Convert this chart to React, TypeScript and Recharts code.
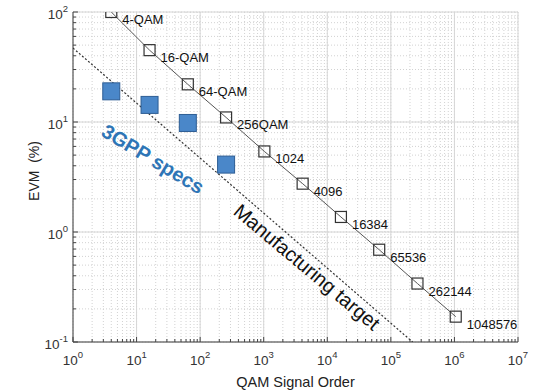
import { ScatterChart, Scatter, XAxis, YAxis, CartesianGrid } from 'recharts';

// QAM constellation orders and the EVM they need
const qamOrders = [4, 16, 64, 256, 1024, 4096, 16384, 65536, 262144, 1048576];
const qamLabels = ['4-QAM', '16-QAM', '64-QAM', '256QAM', '1024', '4096', '16384', '65536', '262144', '1048576'];
const evmRequired = [100, 45, 22, 11, 5.4, 2.75, 1.37, 0.69, 0.34, 0.17];

// 3GPP spec points
const specOrders = [4, 16, 64, 256];
const specEvm = [19, 14.3, 9.8, 4.1];

// manufacturing target (dotted line end points)
const targetOrders = [1, 220000];
const targetEvm = [47, 0.1];

const xDecades = [1, 10, 100, 1e3, 1e4, 1e5, 1e6, 1e7];
const yDecades = [0.1, 1, 10, 100];

const FONT = '"Liberation Sans", Arial, sans-serif';
const AXIS = '#444';

const qamData = qamOrders.map((x, i) => ({ x, y: evmRequired[i], label: qamLabels[i] }));
const specData = specOrders.map((x, i) => ({ x, y: specEvm[i] }));
const targetData = targetOrders.map((x, i) => ({ x, y: targetEvm[i] }));

const withMinor = (decades: number[]) => {
  const out: number[] = [];
  decades.forEach((d, i) => {
    if (i === decades.length - 1) {
      out.push(d);
      return;
    }
    for (let m = 1; m <= 9; m++) out.push(+(m * d).toPrecision(6));
  });
  return out;
};
const xTicks = withMinor(xDecades);
const yTicks = withMinor(yDecades);

const isMajor = (v: number) => {
  const l = Math.log10(v);
  return Math.abs(l - Math.round(l)) < 1e-9;
};

const Pow = ({ x, y, v, anchor }: any) => (
  <text x={x} y={y} textAnchor={anchor} fontFamily={FONT} fontSize={13.5} fill="#333">
    10
    <tspan dy={-7} fontSize={9.5}>{Math.round(Math.log10(v))}</tspan>
  </text>
);

const BottomTick = (props: any) => {
  const { x, y, payload } = props;
  const major = isMajor(payload.value);
  return (
    <g>
      <line x1={x} x2={x} y1={y} y2={y - (major ? 5 : 3)} stroke={AXIS} />
      {major && <Pow x={x} y={y + 23} v={payload.value} anchor="middle" />}
    </g>
  );
};

const LeftTick = (props: any) => {
  const { x, y, payload } = props;
  const major = isMajor(payload.value);
  return (
    <g>
      <line x1={x} x2={x + (major ? 5 : 3)} y1={y} y2={y} stroke={AXIS} />
      {major && <Pow x={x - 5} y={y + 7} v={payload.value} anchor="end" />}
    </g>
  );
};

const TopTick = (props: any) => {
  const { x, y, payload } = props;
  const len = isMajor(payload.value) ? 5 : 3;
  return <line x1={x} x2={x} y1={y} y2={y + len} stroke={AXIS} />;
};

const RightTick = (props: any) => {
  const { x, y, payload } = props;
  const len = isMajor(payload.value) ? 5 : 3;
  return <line x1={x} x2={x - len} y1={y} y2={y} stroke={AXIS} />;
};

const OpenSquare = (props: any) => {
  const { cx, cy, payload } = props;
  return (
    <g>
      <rect x={cx - 5.5} y={cy - 5.5} width={11} height={11} fill="none" stroke="#333" strokeWidth={1.2} />
      <text x={cx + 11} y={cy + 12} fontFamily={FONT} fontSize={13} fill="#111">
        {payload.label}
      </text>
    </g>
  );
};

const BlueSquare = (props: any) => {
  const { cx, cy } = props;
  return <rect x={cx - 8.5} y={cy - 8.5} width={17} height={17} fill="#4a87c9" stroke="#2d5d94" strokeWidth={1} />;
};

const NoDot = () => <g />;

const EvmLabel = (props: any) => {
  const { viewBox } = props;
  const cx = viewBox.x + 34;
  const cy = viewBox.y + viewBox.height / 2 - 6;
  return (
    <text
      transform={`translate(${cx},${cy}) rotate(-90)`}
      textAnchor="middle"
      dominantBaseline="central"
      fontFamily={FONT}
      fontSize={14}
      fill="#222"
    >
      {'EVM\u00a0\u00a0(%)'}
    </text>
  );
};

export default function App() {
  return (
    <div style={{ position: 'absolute', left: 0, top: 0, width: 533, height: 390, background: '#fff' }}>
      <ScatterChart width={533} height={390} margin={{ top: 12, right: 15, left: 0, bottom: 0 }}>
        <CartesianGrid stroke="#d2d2d2" strokeDasharray="1 2" />
        <CartesianGrid stroke="#d6d6d6" horizontalValues={yDecades} verticalValues={xDecades} />
        <XAxis
          dataKey="x"
          type="number"
          scale="log"
          domain={[1, 1e7]}
          allowDataOverflow
          ticks={xTicks}
          interval={0}
          tickSize={0}
          tickMargin={0}
          tick={<BottomTick />}
          height={48}
          axisLine={{ stroke: AXIS }}
          label={{ value: 'QAM Signal Order', position: 'insideBottom', offset: 3, fill: '#222', fontSize: 14.5, fontFamily: FONT }}
        />
        <XAxis
          xAxisId="top"
          orientation="top"
          dataKey="x"
          type="number"
          scale="log"
          domain={[1, 1e7]}
          allowDataOverflow
          ticks={xTicks}
          interval={0}
          tickSize={0}
          tickMargin={0}
          tick={<TopTick />}
          height={0}
          axisLine={{ stroke: AXIS }}
        />
        <YAxis
          dataKey="y"
          type="number"
          scale="log"
          domain={[0.1, 100]}
          allowDataOverflow
          ticks={yTicks}
          interval={0}
          tickSize={0}
          tickMargin={0}
          tick={<LeftTick />}
          width={73}
          axisLine={{ stroke: AXIS }}
          label={<EvmLabel />}
        />
        <YAxis
          yAxisId="right"
          orientation="right"
          dataKey="y"
          type="number"
          scale="log"
          domain={[0.1, 100]}
          allowDataOverflow
          ticks={yTicks}
          interval={0}
          tickSize={0}
          tickMargin={0}
          tick={<RightTick />}
          width={0}
          axisLine={{ stroke: AXIS }}
        />
        <Scatter
          data={targetData}
          shape={<NoDot />}
          line={{ stroke: '#333', strokeWidth: 1.2, strokeDasharray: '2 2' }}
          isAnimationActive={false}
        />
        <Scatter
          data={qamData}
          shape={<OpenSquare />}
          line={{ stroke: '#555', strokeWidth: 1 }}
          isAnimationActive={false}
        />
        <Scatter data={specData} shape={<BlueSquare />} isAnimationActive={false} />
      </ScatterChart>
      <svg width={533} height={390} style={{ position: 'absolute', left: 0, top: 0, pointerEvents: 'none' }}>
        <text
          transform="translate(153,159) rotate(31)"
          textAnchor="middle"
          dominantBaseline="central"
          fill="#2e75b6"
          fontWeight="bold"
          fontSize={20}
          fontFamily={FONT}
        >
          3GPP specs
        </text>
        <text
          transform="translate(307,267) rotate(40)"
          textAnchor="middle"
          dominantBaseline="central"
          fill="#111"
          fontSize={20}
          fontFamily={FONT}
        >
          Manufacturing target
        </text>
      </svg>
    </div>
  );
}
